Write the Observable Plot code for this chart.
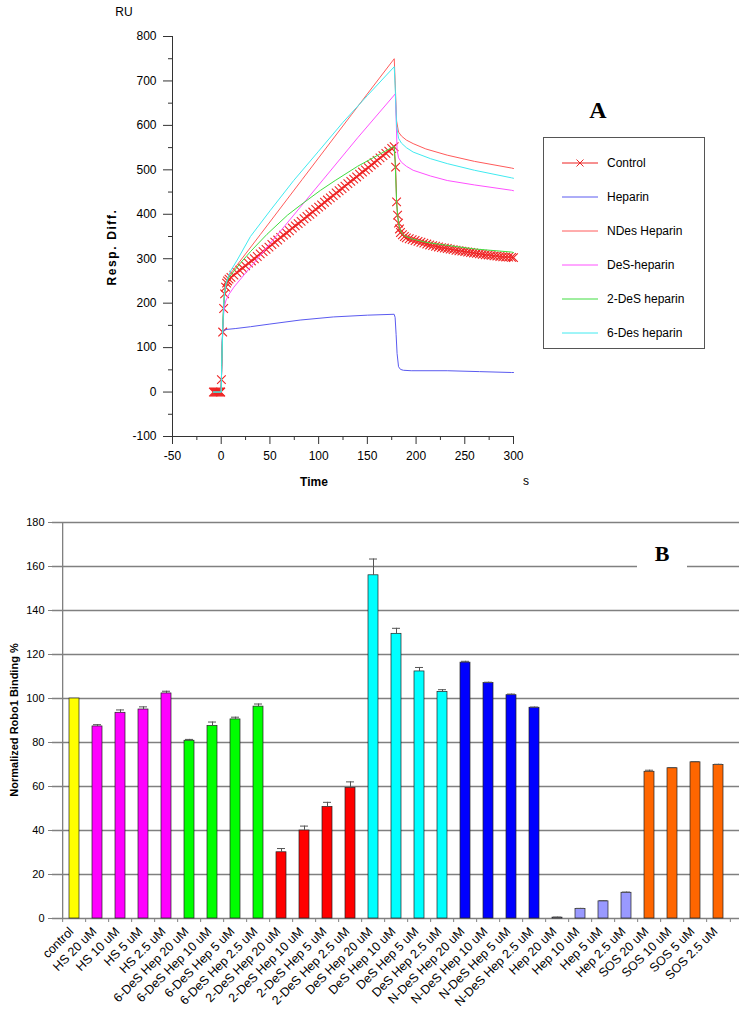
<!DOCTYPE html>
<html><head><meta charset="utf-8">
<script src="https://cdn.jsdelivr.net/npm/d3@7"></script>
<script src="https://cdn.jsdelivr.net/npm/@observablehq/plot@0.6"></script>
<style>
body{margin:0;background:#fff;font-family:"Liberation Sans",Arial,sans-serif;}
#wrap{position:relative;width:749px;height:1012px;overflow:hidden;background:#fff;}
.abs{position:absolute;white-space:nowrap;color:#000;}
svg.plot{position:absolute;}
</style></head><body><div id="wrap"></div>
<script>
// ---------- Panel A data (time s, response RU) ----------
const seriesNames = ["Control","Heparin","NDes Heparin","DeS-heparin","2-DeS heparin","6-Des heparin"];
const seriesColors = ["#ee2020","#5a5af0","#ff5a5a","#ff50ff","#40dd40","#40eaf0"];

const control = [[-8,0],[-7,0],[-6,0],[-5,0],[-4,0],[-3,0],[-2,0],[-1,0],[-0.5,0],
 [0.2,28],[1.5,135],[2.5,188],[3.5,221],[4.5,236],[5.5,245],[6.5,250],[8,254],
 [10,258],[13,263],[16,269],[19,274],[22,279],[25,284],[28,290],[31,295],[34,300],[37,305],
 [40,311],[43,316],[46,321],[49,326],[52,332],[55,337],[58,342],[61,348],[64,353],[67,358],
 [70,363],[73,369],[76,374],[79,379],[82,384],[85,390],[88,395],[91,400],[94,405],[97,411],
 [100,416],[103,421],[106,427],[109,432],[112,437],[115,442],[118,448],[121,453],[124,458],
 [127,463],[130,469],[133,474],[136,479],[139,484],[142,490],[145,495],[148,500],[151,505],
 [154,511],[157,516],[160,521],[163,527],[166,532],[169,537],[172,542],[175,548],[177.5,552],
 [179,506],[180,428],[181,398],[182,380],[183,367],[184,359],[186,354],[188,350],[190,347],
 [193,345],[196,343],[199,341],[202,339],[205,337],[208,335],[211,333],[214,331],[217,329.5],
 [220,328],[223,326.5],[226,325],[229,324],[232,323],[235,321.5],[238,320.5],[241,319],[244,318],
 [247,317],[250,316],[253,315],[256,314],[259,313],[262,312],[265,311],[268,310],[271,309],
 [274,308.5],[277,307.5],[280,306.5],[283,306],[286,305],[289,304.5],[292,304],[295,303.5],
 [298,303],[300,302.5]];
const heparin = [[-8,0],[0,0],[0.5,60],[1,115],[1.5,136],[3,139],[6,141],[15,143],[30,147],[50,153],
 [81,162],[115,169],[150,173],[177.5,175],[178.5,168],[179.5,130],[180.5,87],[182,57],[184,51],
 [187,49],[195,48],[232,48],[265,46],[298,44],[300,44]];
const ndesHeparin = [[-8,0],[0,0],[0.5,60],[1.5,140],[2.5,195],[3.5,225],[5,245],[7,256],[9,265],
 [40,354],[83,478],[134,625],[177.6,750],[178.5,700],[180,610],[182,585],[185,576],[190,567],
 [197,559],[210,547],[232,533],[260,519],[298,504],[300,503]];
const desHeparin = [[-8,0],[0,0],[0.5,60],[1.5,135],[2.5,175],[3.5,195],[5,207],[8,220],[13,236],
 [30,281],[60,360],[105,479],[140,572],[178.7,671],[179.5,620],[180.5,545],[182,527],[185,517],
 [190,508],[197,499],[215,486],[232,476],[260,466],[298,454],[300,453]];
const twoDesHeparin = [[-8,0],[0,0],[0.5,60],[1.5,140],[2.5,195],[3.5,225],[5,245],[8,258],[13,272],
 [20,291],[30,316],[47,355],[68,398],[81,420],[102,454],[117,476],[140,508],[160,532],[177.5,553],
 [178.5,520],[180,430],[181,400],[182,382],[183,370],[185,358],[188,352],[195,345],[210,337],
 [232,330],[260,322],[298,315],[300,314]];
const sixDesHeparin = [[-8,0],[0,0],[0.5,60],[1.5,140],[2.5,195],[3.5,225],[5,245],[7,258],[10,274],
 [16.4,297],[30,350],[50.5,409],[74.4,476],[100,542],[125,607],[150,667],[177.6,732],[178.5,690],
 [180,600],[182,571],[185,560],[190,550],[197,540],[215,525],[232,514],[260,499],[298,482],[300,481]];
const yTicksA = d3.range(-100, 801, 100);
const yMinorA = d3.range(-50, 800, 100);
const xTicksA = d3.range(-50, 301, 50);
const xMinorA = d3.range(-25, 300, 50);

// ---------- Panel B data ----------
const categories = ["control","HS 20 uM","HS 10 uM","HS 5 uM","HS 2.5 uM",
 "6-DeS Hep 20 uM","6-DeS Hep 10 uM","6-DeS Hep 5 uM","6-DeS Hep 2.5 uM",
 "2-DeS Hep 20 uM","2-DeS Hep 10 uM","2-DeS Hep 5 uM","2-DeS Hep 2.5 uM",
 "DeS Hep 20 uM","DeS Hep 10 uM","DeS Hep 5 uM","DeS Hep 2.5 uM",
 "N-DeS Hep 20 uM","N-DeS Hep 10 uM","N-DeS Hep 5 uM","N-DeS Hep 2.5 uM",
 "Hep 20 uM","Hep 10 uM","Hep 5 uM","Hep 2.5 uM",
 "SOS 20 uM","SOS 10 uM","SOS 5 uM","SOS 2.5 uM"];
const bindingValues = [100, 87.3, 93.5, 95, 102.3, 80.8, 87.5, 90.5, 96.3, 30.1, 40, 50.7, 59.4,
 156, 129.4, 112.3, 103, 116.3, 107, 101.5, 95.8, 0.4, 4.3, 7.8, 11.7, 66.7, 68.3, 71, 69.8];
const bindingErrors = [0, 0.8, 1.3, 1.2, 1, 0.6, 1.8, 1, 1.2, 1.7, 2, 2.1, 2.7,
 7.4, 2.5, 1.8, 1, 0.6, 0.4, 0.5, 0.3, 0.2, 0.3, 0.3, 0.3, 0.7, 0.3, 0.3, 0.3];
const groups = ["control","HS","HS","HS","HS","6-DeS","6-DeS","6-DeS","6-DeS","2-DeS","2-DeS","2-DeS","2-DeS",
 "DeS","DeS","DeS","DeS","N-DeS","N-DeS","N-DeS","N-DeS","Hep","Hep","Hep","Hep","SOS","SOS","SOS","SOS"];
const groupNames = ["control","HS","6-DeS","2-DeS","DeS","N-DeS","Hep","SOS"];
const groupColors = ["#ffff00","#ff00ff","#00ff00","#ff0000","#00ffff","#0000ff","#9999ff","#ff6600"];
const yTicksB = d3.range(0, 181, 20);

// ---------- build ----------
const wrap = document.getElementById("wrap");
const FONT = "Liberation Sans, Arial, sans-serif";
const toObj = (arr) => arr.map(([t, v]) => ({t, v}));
const curves = [control, heparin, ndesHeparin, desHeparin, twoDesHeparin, sixDesHeparin];
const hyphen = (d) => String(d);

const axisCol = "#333";
const lineMarks = curves.map((c, i) => Plot.line(toObj(c), {x: "t", y: "v", stroke: seriesColors[i], strokeWidth: 1}));

const chartA = Plot.plot({
  width: 749, height: 500,
  marginLeft: 172, marginRight: 236, marginTop: 36, marginBottom: 64,
  x: {domain: [-50, 300]},
  y: {domain: [-100, 800]},
  style: {fontFamily: FONT, fontSize: "12px", color: "#000", background: "transparent", overflow: "visible"},
  marks: [
    Plot.axisY(yMinorA, {tickSize: 4, tickFormat: () => "", stroke: axisCol, label: null}),
    Plot.axisY(yTicksA, {tickSize: 9, tickPadding: 7, stroke: axisCol, label: null, fontSize: 12, tickFormat: hyphen}),
    Plot.axisX(xMinorA, {tickSize: 4, tickFormat: () => "", stroke: axisCol, label: null}),
    Plot.axisX(xTicksA, {tickSize: 8, tickPadding: 7, stroke: axisCol, label: null, fontSize: 12, tickFormat: hyphen}),
    Plot.ruleX([-50], {stroke: axisCol}),
    Plot.ruleY([-100], {stroke: axisCol}),
    lineMarks[0],
    Plot.dot(toObj(control), {x: "t", y: "v", symbol: "times", r: 4, stroke: "#ee2424", strokeWidth: 1.1}),
    ...lineMarks.slice(1)
  ]
});
chartA.classList.add("plot");
chartA.style.left = "0px"; chartA.style.top = "0px";
wrap.appendChild(chartA);

const step = (749 - 52 - 10) / categories.length;
const colorOf = (g) => groupColors[groupNames.indexOf(g)];
const dataB = categories.map((c, i) => ({cat: c, value: bindingValues[i], err: bindingErrors[i], group: groups[i]}));
const gridCol = "#808080";

const chartB = Plot.plot({
  width: 749, height: 512,
  marginLeft: 52, marginRight: 10, marginTop: 22, marginBottom: 94,
  x: {domain: categories, paddingInner: 0.58, paddingOuter: 0.29},
  y: {domain: [0, 180]},
  style: {fontFamily: FONT, fontSize: "12px", color: "#000", background: "transparent", overflow: "visible"},
  marks: [
    Plot.gridY(yTicksB.slice(1), {stroke: gridCol, strokeOpacity: 1, strokeWidth: 1.3}),
    Plot.ruleY([0], {stroke: gridCol, strokeWidth: 1.3}),
    Plot.ruleX([categories[0]], {dx: -step / 2, stroke: gridCol, strokeWidth: 1.3}),
    Plot.axisY(yTicksB, {tickSize: 4, tickPadding: 4, stroke: gridCol, label: null, fontSize: 11}),
    Plot.axisX(categories, {tickSize: 4, tickFormat: () => "", dx: -step / 2, stroke: gridCol, label: null}),
    Plot.axisX([categories[categories.length - 1]], {tickSize: 4, tickFormat: () => "", dx: step / 2, stroke: gridCol, label: null}),
    Plot.axisX(categories, {tickSize: 0, tickPadding: 11, tickRotate: -45, label: null, fontSize: 12.5, dx: -3}),
    Plot.barY(dataB, {x: "cat", y: "value", fill: d => colorOf(d.group), stroke: "#222", strokeWidth: 0.7}),
    Plot.ruleX(dataB.filter(d => d.err > 0), {x: "cat", y1: "value", y2: d => d.value + d.err, stroke: "#555", strokeWidth: 1}),
    Plot.tickY(dataB.filter(d => d.err > 0), {x: "cat", y: d => d.value + d.err, stroke: "#555", strokeWidth: 1, insetLeft: 1, insetRight: 1})
  ]
});
chartB.classList.add("plot");
chartB.style.left = "0px"; chartB.style.top = "500px";
wrap.appendChild(chartB);

// ---------- text overlays ----------
function label(text, cx, cy, css, rotate) {
  const d = document.createElement("div");
  d.className = "abs";
  d.textContent = text;
  d.style.left = cx + "px"; d.style.top = cy + "px";
  d.style.transform = "translate(-50%,-50%)" + (rotate ? ` rotate(${rotate}deg)` : "");
  Object.assign(d.style, css || {});
  wrap.appendChild(d);
  return d;
}
label("RU", 124, 12, {fontSize: "12px"});
label("Resp. Diff.", 112, 247, {fontSize: "12px", fontWeight: "bold", letterSpacing: "1.6px"}, -90);
label("Time", 314, 482, {fontSize: "12px", fontWeight: "bold"});
label("s", 526, 481, {fontSize: "12px"});
label("A", 598, 110, {fontSize: "24px", fontWeight: "bold", fontFamily: "Liberation Serif, Times New Roman, serif"});
label("Normalized Robo1 Binding %", 14, 720, {fontSize: "11px", fontWeight: "bold"}, -90);

// B label with white patch breaking the gridline
const bLab = document.createElement("div");
bLab.className = "abs";
bLab.textContent = "B";
Object.assign(bLab.style, {left: "637px", top: "541px", width: "50px", height: "32px", lineHeight: "26px",
  textAlign: "center", background: "#fff", fontSize: "22px", fontWeight: "bold",
  fontFamily: "Liberation Serif, Times New Roman, serif"});
wrap.appendChild(bLab);

// legend box for panel A
const lg = document.createElement("div");
lg.className = "abs";
Object.assign(lg.style, {left: "543px", top: "137px", width: "160px", height: "210px", border: "1px solid #555", background: "#fff"});
wrap.appendChild(lg);
const ns = "http://www.w3.org/2000/svg";
const lsvg = document.createElementNS(ns, "svg");
lsvg.setAttribute("width", 160); lsvg.setAttribute("height", 210);
lsvg.style.position = "absolute"; lsvg.style.left = "0"; lsvg.style.top = "0";
lg.appendChild(lsvg);
seriesNames.forEach((name, i) => {
  const cy = 25 + i * 34;
  const ln = document.createElementNS(ns, "line");
  ln.setAttribute("x1", 18); ln.setAttribute("x2", 54); ln.setAttribute("y1", cy); ln.setAttribute("y2", cy);
  ln.setAttribute("stroke", seriesColors[i]); ln.setAttribute("stroke-width", 1);
  lsvg.appendChild(ln);
  if (i === 0) {
    const p = document.createElementNS(ns, "path");
    p.setAttribute("d", `M${36-3.5},${cy-3.5}L${36+3.5},${cy+3.5}M${36-3.5},${cy+3.5}L${36+3.5},${cy-3.5}`);
    p.setAttribute("stroke", "#e82828"); p.setAttribute("stroke-width", 1);
    lsvg.appendChild(p);
  }
  const tx = document.createElementNS(ns, "text");
  tx.setAttribute("x", 63); tx.setAttribute("y", cy); tx.setAttribute("dy", "0.35em");
  tx.setAttribute("font-family", FONT); tx.setAttribute("font-size", 12);
  tx.textContent = name;
  lsvg.appendChild(tx);
});
</script></body></html>
